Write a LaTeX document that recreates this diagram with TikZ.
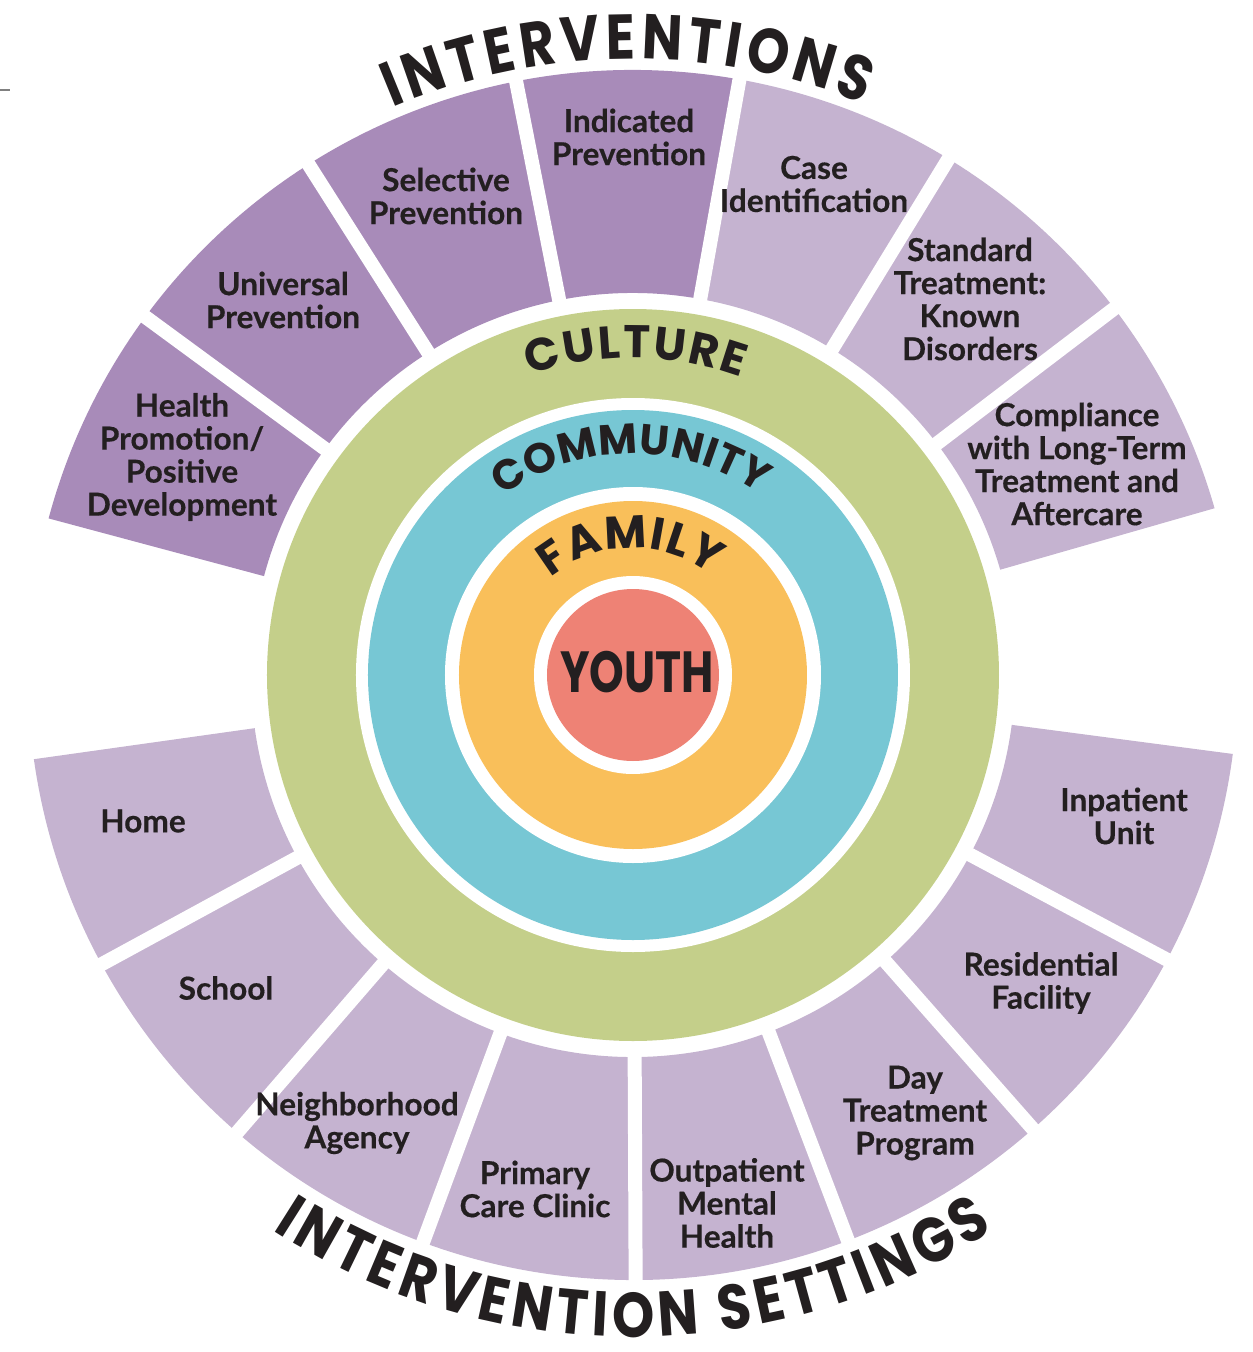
\documentclass[tikz,border=0pt]{standalone}
\usepackage{fontspec}
\setmainfont{Lato}[BoldFeatures={FakeBold=0.4}]
\newfontfamily\titlefont[FakeStretch=0.85]{Poppins}
\newfontfamily\ringfont{Poppins}
\newfontfamily\youthfont[FakeStretch=0.76]{Poppins}
\usetikzlibrary{decorations.text}
\definecolor{darkplum}{HTML}{A88BB9}
\definecolor{lightplum}{HTML}{C5B3D0}
\definecolor{culturegreen}{HTML}{C4CF8A}
\definecolor{communityteal}{HTML}{77C7D4}
\definecolor{familyorange}{HTML}{F9BF5A}
\definecolor{youthred}{HTML}{EE8275}
\definecolor{inkblack}{HTML}{231F20}
\begin{document}
\begin{tikzpicture}
[x=0.1mm, y=0.1mm,
 seglabel/.style={align=center, text=inkblack, inner sep=0pt,
   font=\bfseries\fontsize{9}{9.4}\selectfont},
 gapline/.style={white, line width=1.4mm},
 curvetext/.style={decorate, decoration={text along path,
   text align={fit to path}, text color=inkblack}}]
\useasboundingbox (-633,-677) rectangle (620,675);
\draw[gray, line width=0.15mm] (-633,585) -- (-623,585);
%% the rings round the youth
\fill[culturegreen] (0,0) circle (366);
\fill[white] (0,0) circle (277);
\fill[communityteal] (0,0) circle (265);
\fill[white] (0,0) circle (188);
\fill[familyorange] (0,0) circle (174);
\fill[white] (0,0) circle (99);
\fill[youthred] (0,0) circle (86);
%% the outer segments
\foreach \a/\b/\col in {16/79.86/lightplum, 79.86/165/darkplum, 188/352.5/lightplum} {
  \fill[\col] (\a:382) arc[start angle=\a, end angle=\b, radius=382] --
    (\b:605) arc[start angle=\b, end angle=\a, radius=605] -- cycle;
}
\foreach \g in {37.29, 58.57, 79.86, 101.14, 122.43, 143.71,
  208.56, 229.13, 249.69, 270.25, 290.81, 311.38, 331.94}
  \draw[gapline] (\g:372) -- (\g:620);
%% interventions
\node[seglabel] (health) at (-451,218) {Health\\Promotion/\\Positive\\Development};
\node[seglabel] (universal) at (-350,375) {Universal\\Prevention};
\node[seglabel] (selective) at (-187,479) {Selective\\Prevention};
\node[seglabel] (indicated) at (-4,538) {Indicated\\Prevention};
\node[seglabel] (caseid) at (181,491) {Case\\Identification};
\node[seglabel] (standard) at (337,376) {Standard\\Treatment:\\Known\\Disorders};
\node[seglabel] (compliance) at (444,211) {Compliance\\with Long-Term\\Treatment and\\Aftercare};
%% intervention settings
\node[seglabel] (home) at (-490,-146) {Home};
\node[seglabel] (school) at (-407,-313) {School};
\node[seglabel] (neighborhood) at (-276,-448) {Neighborhood\\Agency};
\node[seglabel] (primary) at (-98,-514) {Primary\\Care Clinic};
\node[seglabel] (outpatient) at (94,-528) {Outpatient\\Mental\\Health};
\node[seglabel] (daytreat) at (282,-438) {Day\\Treatment\\Program};
\node[seglabel] (residential) at (408,-308) {Residential\\Facility};
\node[seglabel] (inpatient) at (491,-141) {Inpatient\\Unit};
\node[text=inkblack, font=\youthfont\bfseries\fontsize{16.5}{16.5}\selectfont] (youth) at (4,3) {YOUTH};
%% curved titles
\path[curvetext, decoration={text={|\titlefont\bfseries\fontsize{18}{18}\selectfont|INTERVENTIONS}}]
  (113:616) arc[start angle=113, end angle=68, radius=616];
\path[curvetext, decoration={text={|\titlefont\bfseries\fontsize{18}{18}\selectfont|INTERVENTION SETTINGS}}]
  (237:662) arc[start angle=237, end angle=303, radius=662];
\path[curvetext, decoration={text={|\ringfont\bfseries\fontsize{13}{13}\selectfont|CULTURE}}]
  (109:317) arc[start angle=109, end angle=70, radius=317];
\path[curvetext, decoration={text={|\ringfont\bfseries\fontsize{12}{12}\selectfont|COMMUNITY}}]
  (126:221) arc[start angle=126, end angle=55, radius=221];
\path[curvetext, decoration={text={|\ringfont\bfseries\fontsize{13}{13}\selectfont|FAMILY}}]
  (130:127) arc[start angle=130, end angle=52, radius=127];
\end{tikzpicture}
\end{document}
